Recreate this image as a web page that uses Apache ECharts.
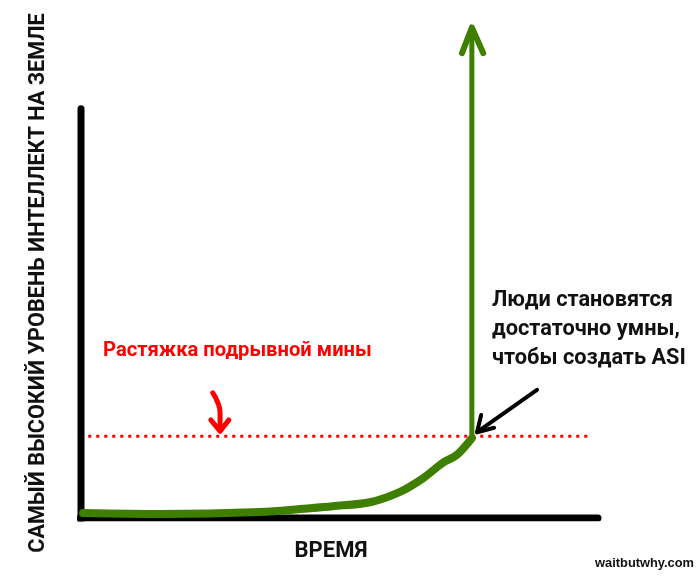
<!DOCTYPE html>
<html>
<head>
<meta charset="utf-8">
<script src="https://cdn.jsdelivr.net/npm/echarts@6/dist/echarts.min.js"></script>
<style>html,body{margin:0;padding:0;background:#fff}#c{width:700px;height:576px}</style>
</head>
<body>
<div id="c"></div>
<script>
// Time (x, 0..100) vs intelligence (y, 0..100)
var curveX = [0.4, 15.3, 34.6, 44.3, 48.7, 55.9, 61.7, 66.2, 70.0, 72.7, 75.6];
var curveY = [1.0, 0.8, 1.2, 2.0, 2.4, 3.2, 5.3, 8.1, 11.2, 12.8, 16.2];
var riseX = [75.6, 75.6];
var riseY = [16.2, 99.3];
var riseHeadX = [73.7, 75.6, 77.8];
var riseHeadY = [94.3, 99.5, 94.3];
var yAxisLineX = [0, 0];
var yAxisLineY = [-0.6, 83.0];
var xAxisLineX = [-0.2, 100];
var xAxisLineY = [0, 0];
var tripwireX = [1.4, 98.5];
var tripwireY = [16.6, 16.6];
var redArrowX = [25.5, 26.5, 26.9, 26.9];
var redArrowY = [25.4, 23.3, 21.3, 17.8];
var redHeadX = [25.1, 26.9, 28.6];
var redHeadY = [19.9, 17.6, 19.9];
var blackArrowX = [88.2, 76.6];
var blackArrowY = [26.0, 17.4];
var blackHeadX = [79.9, 76.6, 77.4];
var blackHeadY = [18.3, 17.4, 20.9];
var tripwireLabel = 'Растяжка подрывной мины';
var noteLines = ['Люди становятся', 'достаточно умны,', 'чтобы создать ASI'];
var yTitle = 'САМЫЙ ВЫСОКИЙ УРОВЕНЬ ИНТЕЛЛЕКТ НА ЗЕМЛЕ';
var xTitle = 'ВРЕМЯ';
var credit = 'waitbutwhy.com';

function zip(xs, ys) { return xs.map(function (x, i) { return [x, ys[i]]; }); }

var GREEN = '#3f7f00';
var FAM = 'Roboto, "Noto Sans", sans-serif';
var ctx = document.createElement('canvas').getContext('2d');
// font size that makes `text` span `w` pixels in bold FAM
function fit(text, w, fam) {
  ctx.font = 'bold 100px ' + (fam || FAM);
  return 100 * w / ctx.measureText(text).width;
}

function lineSeries(xs, ys, color, width, extra) {
  var s = {
    type: 'line', data: zip(xs, ys), symbol: 'none', silent: true, animation: false,
    lineStyle: { color: color, width: width, cap: 'round', join: 'round' }
  };
  if (extra) for (var k in extra) {
    if (k === 'lineStyle') { for (var j in extra[k]) s.lineStyle[j] = extra[k][j]; }
    else s[k] = extra[k];
  }
  return s;
}

var redSize = fit(tripwireLabel, 269);
var noteSize = fit(noteLines[0], 181);
var ySize = fit(yTitle, 540);
var xSize = fit(xTitle, 73);
var creditSize = fit(credit, 99, '"Liberation Sans", Arial, sans-serif');

var graphics = [
  { type: 'text', x: 103, y: 351,
    style: { text: tripwireLabel, fill: '#ff0000', font: 'bold ' + redSize + 'px ' + FAM, verticalAlign: 'middle' } },
  { type: 'text', x: 39, y: 283, rotation: Math.PI / 2,
    style: { text: yTitle, fill: '#111', font: 'bold ' + ySize + 'px ' + FAM, align: 'center', verticalAlign: 'middle' } },
  { type: 'text', x: 331, y: 551,
    style: { text: xTitle, fill: '#111', font: 'bold ' + xSize + 'px ' + FAM, align: 'center', verticalAlign: 'middle' } },
  { type: 'text', x: 694, y: 563,
    style: { text: credit, fill: '#111', font: 'bold ' + creditSize + 'px "Liberation Sans", Arial, sans-serif', align: 'right', verticalAlign: 'middle' } }
];
noteLines.forEach(function (t, i) {
  graphics.push({ type: 'text', x: 492, y: 301 + i * 29,
    style: { text: t, fill: '#111', font: 'bold ' + noteSize + 'px ' + FAM, verticalAlign: 'middle' } });
});

var chart = echarts.init(document.getElementById('c'), null, { renderer: 'canvas' });
chart.setOption({
  backgroundColor: '#ffffff',
  animation: false,
  grid: { left: 81, right: 102, top: 25, bottom: 58 },
  xAxis: { type: 'value', min: 0, max: 100, show: false },
  yAxis: { type: 'value', min: 0, max: 100, show: false },
  series: [
    lineSeries(yAxisLineX, yAxisLineY, '#000', 7),
    lineSeries(xAxisLineX, xAxisLineY, '#000', 7),
    lineSeries(tripwireX, tripwireY, '#ff0000', 3, { lineStyle: { type: [3, 5], cap: 'butt' } }),
    lineSeries(curveX, curveY, GREEN, 8, { smooth: 0.3 }),
    lineSeries(riseX, riseY, GREEN, 5),
    lineSeries(riseHeadX, riseHeadY, GREEN, 6),
    lineSeries(redArrowX, redArrowY, '#ff0000', 5, { smooth: true }),
    lineSeries(redHeadX, redHeadY, '#ff0000', 5),
    lineSeries(blackArrowX, blackArrowY, '#000', 4),
    lineSeries(blackHeadX, blackHeadY, '#000', 4)
  ],
  graphic: graphics
});
</script>
</body>
</html>
